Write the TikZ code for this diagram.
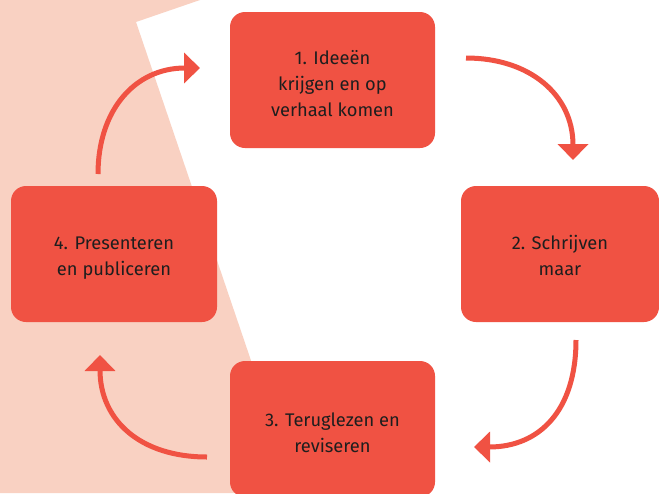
\documentclass[tikz,border=0pt]{standalone}
\usepackage{fontspec}
\setmainfont{Fira Sans}
\usetikzlibrary{arrows.meta}
\definecolor{peach}{HTML}{F9D1C2}
\definecolor{boxred}{HTML}{F05243}
\definecolor{txt}{HTML}{1E1E1E}
\newcommand{\steptext}[2][7pt]{\raisebox{-#1}[0pt][0pt]{\begin{tabular}{@{}c@{}}#2\end{tabular}}}
\begin{document}
\begin{tikzpicture}[x=1pt,y=-1pt,
  stepbox/.style={fill=boxred, rounded corners=15pt, text=txt,
    font=\fontsize{18.3}{26}\selectfont, inner sep=0pt},
  flow/.style={draw=boxred, line width=5pt, -{Triangle[width=30pt,length=16pt]}}]
\useasboundingbox (0,0) rectangle (659,493);
\fill[white] (0,0) rectangle (659,493);
\fill[peach] (0,0) -- (200,0) -- (136,22) -- (296,493) -- (0,493) -- cycle;

\node[stepbox, minimum width=205pt, minimum height=136pt] (n1) at (332.5,80)
  {\steptext[9.4pt]{1. Ideeën\\krijgen en op\\verhaal komen}};
\node[stepbox, minimum width=198pt, minimum height=136pt] (n2) at (560,254)
  {\steptext[8pt]{2. Schrijven\\maar}};
\node[stepbox, minimum width=205pt, minimum height=136pt] (n3) at (332.5,429)
  {\steptext[9.4pt]{3. Teruglezen en\\reviseren}};
\node[stepbox, minimum width=206pt, minimum height=136pt] (n4) at (114,254)
  {\steptext[8pt]{4. Presenteren\\en publiceren}};

\coordinate (s1) at (466,58);  \coordinate (e1) at (573,160);
\coordinate (s2) at (576,340); \coordinate (e2) at (474,447);
\coordinate (s3) at (207,457); \coordinate (e3) at (100,355);
\coordinate (s4) at (98,174);  \coordinate (e4) at (200,68);

\draw[flow] (s1) .. controls (530,58) and (573,95) .. (e1);
\draw[flow] (s2) .. controls (576,410) and (540,447) .. (e2);
\draw[flow] (s3) .. controls (140,457) and (100,420) .. (e3);
\draw[flow] (s4) .. controls (98,110) and (135,68) .. (e4);
\end{tikzpicture}
\end{document}
